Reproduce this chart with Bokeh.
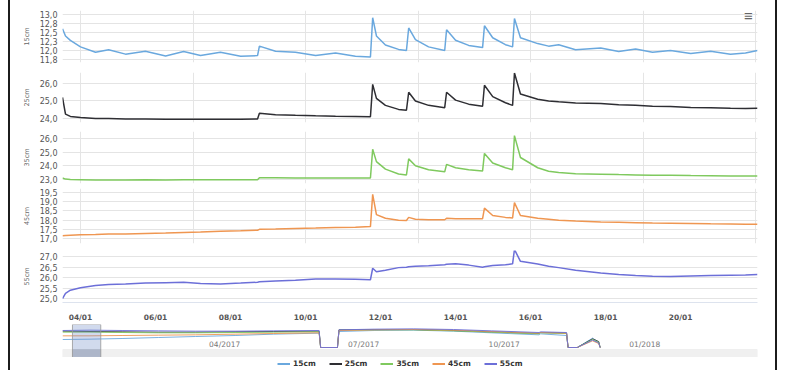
import numpy as np
import pandas as pd
from bokeh.plotting import figure
from bokeh.layouts import column, row
from bokeh.models import (Range1d, FixedTicker, CustomJSTickFormatter, DaysTicker,
                          DatetimeTickFormatter, Legend, LegendItem, BoxAnnotation,
                          Label, Spacer)
from bokeh.embed import file_html
from bokeh.resources import INLINE
from bokeh.core.properties import value

# ---------------- data ----------------
series_names = ["15cm", "25cm", "35cm", "45cm", "55cm"]
series_colors = ["#6aa8de", "#2e2e33", "#7fc95e", "#ef9651", "#6c6fd8"]

# time of each reading, in days of January 2017
day_of_jan = [3.52, 3.60, 3.73, 4.00, 4.40, 4.75, 5.20, 5.73, 6.27, 6.75,
              7.20, 7.73, 8.27, 8.72, 8.77, 9.20, 9.73, 10.27, 10.80, 11.33,
              11.73, 11.79, 11.89, 12.13, 12.48, 12.69, 12.75, 12.93, 13.28, 13.71,
              13.76, 14.00, 14.35, 14.72, 14.77, 14.99, 15.33, 15.52, 15.57, 15.73,
              16.19, 16.48, 16.75, 17.20, 17.87, 18.35, 18.80, 19.25, 19.73, 20.27,
              20.80, 21.33, 21.73, 22.05]

temp_15 = [12.60, 12.40, 12.28, 12.10, 11.95, 12.02, 11.90, 11.98, 11.85, 11.97,
           11.86, 11.95, 11.84, 11.86, 12.12, 11.98, 11.95, 11.86, 11.93, 11.84,
           11.82, 12.90, 12.40, 12.15, 12.03, 12.00, 12.62, 12.30, 12.10, 12.00,
           12.57, 12.28, 12.14, 12.08, 12.68, 12.35, 12.16, 12.10, 12.88, 12.35,
           12.19, 12.12, 12.16, 12.02, 12.07, 11.97, 12.04, 11.95, 12.00, 11.92,
           11.98, 11.90, 11.93, 12.00]
temp_25 = [25.20, 24.25, 24.12, 24.05, 24.00, 24.00, 23.97, 23.97, 23.95, 23.96,
           23.95, 23.96, 23.95, 23.97, 24.30, 24.22, 24.18, 24.15, 24.13, 24.12,
           24.10, 25.95, 25.15, 24.75, 24.52, 24.47, 25.50, 25.00, 24.75, 24.62,
           25.50, 25.05, 24.82, 24.70, 25.90, 25.25, 24.90, 24.75, 26.60, 25.40,
           25.10, 25.00, 24.95, 24.88, 24.85, 24.78, 24.75, 24.70, 24.68, 24.63,
           24.62, 24.58, 24.57, 24.58]
temp_35 = [23.10, 23.02, 23.00, 22.98, 22.95, 22.95, 22.96, 22.97, 22.96, 22.97,
           22.97, 22.98, 22.98, 22.98, 23.12, 23.12, 23.11, 23.11, 23.10, 23.10,
           23.10, 25.20, 24.30, 23.75, 23.40, 23.32, 24.50, 24.00, 23.70, 23.55,
           24.10, 23.85, 23.70, 23.62, 24.90, 24.20, 23.85, 23.70, 26.20, 24.60,
           23.85, 23.60, 23.50, 23.42, 23.38, 23.35, 23.33, 23.30, 23.30, 23.28,
           23.27, 23.25, 23.25, 23.25]
temp_45 = [17.15, 17.17, 17.18, 17.20, 17.22, 17.25, 17.24, 17.28, 17.30, 17.33,
           17.36, 17.40, 17.42, 17.45, 17.50, 17.52, 17.55, 17.57, 17.60, 17.62,
           17.65, 19.40, 18.30, 18.10, 18.00, 17.98, 18.15, 18.05, 18.02, 18.02,
           18.10, 18.08, 18.08, 18.08, 18.65, 18.25, 18.15, 18.12, 18.95, 18.25,
           18.10, 18.05, 18.00, 17.95, 17.90, 17.88, 17.86, 17.84, 17.83, 17.82,
           17.80, 17.79, 17.78, 17.78]
temp_55 = [25.00, 25.25, 25.40, 25.52, 25.62, 25.67, 25.70, 25.74, 25.76, 25.78,
           25.72, 25.70, 25.74, 25.78, 25.80, 25.84, 25.88, 25.93, 25.93, 25.92,
           25.90, 26.45, 26.28, 26.35, 26.48, 26.50, 26.52, 26.55, 26.57, 26.62,
           26.64, 26.66, 26.60, 26.50, 26.52, 26.58, 26.62, 26.66, 27.35, 26.78,
           26.65, 26.55, 26.48, 26.35, 26.22, 26.15, 26.10, 26.07, 26.05, 26.08,
           26.10, 26.12, 26.13, 26.15]

y_ticks_15 = [11.75, 12.0, 12.25, 12.5, 12.75, 13.0]
y_ticks_25 = [24.0, 25.0, 26.0]
y_ticks_35 = [23.0, 24.0, 25.0, 26.0]
y_ticks_45 = [17.0, 17.5, 18.0, 18.5, 19.0, 19.5]
y_ticks_55 = [25.0, 25.5, 26.0, 26.5, 27.0]
x_tick_days = [4, 6, 8, 10, 12, 14, 16, 18, 20]

# navigator (whole record)
nav_dates = ["2016-12-28", "2017-01-15", "2017-02-05", "2017-03-01", "2017-03-25",
             "2017-04-20", "2017-05-15", "2017-06-14", "2017-06-15", "2017-06-26",
             "2017-06-27", "2017-07-20", "2017-08-15", "2017-09-10", "2017-10-05",
             "2017-11-05", "2017-11-06", "2017-11-23", "2017-11-24", "2017-11-30",
             "2017-12-10", "2017-12-14", "2017-12-15"]
nav_15 = [12.0, 12.5, 13.5, 15.0, 16.5, 18.0, 20.0, 21.5, 0, 0, 24.0, 25.5,
          26.0, 24.5, 22.0, 19.0, 20.5, 18.0, 0, 0, 14.0, 8.0, 0]
nav_25 = [24.5, 24.0, 23.5, 23.0, 23.0, 23.5, 24.0, 24.5, 0, 0, 26.5, 27.0,
          27.0, 25.5, 23.5, 21.0, 22.5, 21.5, 0, 0, 13.0, 9.0, 0]
nav_35 = [23.0, 23.0, 22.5, 22.0, 22.0, 22.5, 23.0, 23.5, 0, 0, 26.0, 26.5,
          26.5, 25.0, 23.0, 20.5, 22.0, 21.0, 0, 0, 12.0, 8.0, 0]
nav_45 = [17.5, 17.5, 18.0, 18.5, 19.0, 20.0, 21.0, 22.0, 0, 0, 25.5, 26.5,
          27.0, 26.0, 24.0, 21.5, 22.5, 21.5, 0, 0, 10.0, 6.0, 0]
nav_55 = [25.5, 26.0, 25.5, 25.0, 24.5, 24.5, 25.0, 25.5, 0, 0, 26.5, 27.5,
          28.0, 27.0, 25.0, 22.5, 23.5, 22.5, 0, 0, 11.0, 7.0, 0]
nav_tick_dates = ["2017-04-01", "2017-07-01", "2017-10-01", "2018-01-01"]
nav_tick_labels = ["04/2017", "07/2017", "10/2017", "01/2018"]

# ---------------- build ----------------
FONT = "DejaVu Sans"
W = 765
t = pd.Timestamp("2017-01-01") + pd.to_timedelta(np.array(day_of_jan) - 1.0, unit="D")
x_range = Range1d(start=t[0], end=t[-1])


def ms(ts):
    return pd.Timestamp(ts).value / 1e6


comma_fmt = CustomJSTickFormatter(code="return tick.toFixed(1).replace('.', ',');")

panels = [
    (temp_15, (11.67, 13.1), y_ticks_15, 67, 10, 5),
    (temp_25, (23.77, 26.63), y_ticks_25, 60, 5, 5),
    (temp_35, (22.7, 26.5), y_ticks_35, 59, 4, 3),
    (temp_45, (16.73, 19.72), y_ticks_45, 60, 2, 3),
    (temp_55, (24.81, 27.3), y_ticks_55, 78, 4, 22),
]

figs = []
for i, (vals, yr, ticks, h, bt, bb) in enumerate(panels):
    last = i == len(panels) - 1
    p = figure(width=W, height=h, x_range=x_range,
               y_range=Range1d(*yr), x_axis_type="datetime",
               x_axis_location="below" if last else None,
               output_backend="svg", toolbar_location=None,
               min_border_left=52, min_border_right=18,
               min_border_top=bt, min_border_bottom=bb)
    p.outline_line_color = None
    p.background_fill_color = "white"
    p.border_fill_color = "white"
    p.line(x=t, y=vals, line_color=series_colors[i], line_width=1.5)
    ya = p.yaxis[0]
    ya.ticker = FixedTicker(ticks=ticks)
    ya.formatter = comma_fmt
    ya.axis_label = series_names[i]
    ya.axis_label_text_font_size = "6.5px"
    ya.axis_label_text_font_style = "normal"
    ya.axis_label_text_color = "#666666"
    ya.axis_label_text_font = FONT
    ya.axis_label_standoff = 6
    ya.major_label_text_font_size = "8px"
    ya.major_label_text_color = "#555555"
    ya.major_label_text_font = FONT
    ya.major_label_standoff = 5
    ya.axis_line_color = None
    ya.major_tick_line_color = None
    ya.minor_tick_line_color = None
    ya.major_tick_out = 0
    ya.minor_tick_out = 0
    p.ygrid.grid_line_color = "#e4e4e4"
    if last:
        xa = p.xaxis[0]
        xa.ticker = DaysTicker(days=x_tick_days)
        xa.formatter = DatetimeTickFormatter(days="%d/%m", months="%d/%m")
        xa.major_label_text_font_size = "7.5px"
        xa.major_label_text_font_style = "bold"
        xa.major_label_text_color = "#555555"
        xa.major_label_text_font = FONT
        xa.major_label_standoff = 10
        xa.axis_line_color = "#dde3ee"
        xa.major_tick_line_color = None
        xa.minor_tick_line_color = None
        xa.major_tick_out = 0
        xa.minor_tick_out = 0
        p.xgrid.grid_line_color = None
    if i == 0:
        p.add_layout(Label(x=686, y=47, x_units="screen", y_units="screen",
                           text="\u2261", text_font_size="15px", text_color="#666666",
                           text_align="center", text_baseline="middle"))
    figs.append(p)

# navigator
nav_t = pd.to_datetime(nav_dates)
nav = figure(width=W, height=33,
             x_range=Range1d(start=pd.Timestamp("2016-12-28"), end=pd.Timestamp("2018-03-28")),
             y_range=Range1d(-15, 34.5),
             x_axis_location=None, y_axis_location=None,
             output_backend="svg", toolbar_location=None,
             min_border_left=52, min_border_right=18,
             min_border_top=0, min_border_bottom=0)
nav.outline_line_color = None
nav.border_fill_color = "white"
nav.grid.visible = False
for vals, c in zip([nav_15, nav_25, nav_35, nav_45, nav_55], series_colors):
    nav.line(x=nav_t, y=vals, line_color=c, line_width=1, line_alpha=0.9)
nav.text(x=pd.to_datetime(nav_tick_dates), y=[4.5] * len(nav_tick_dates), text=nav_tick_labels,
         x_offset=3, text_font_size="7.5px", text_color="#777777",
         text_baseline="middle", text_font=value(FONT))
sel_left, sel_right = ms(t[0]), ms(t[-1])
nav.add_layout(BoxAnnotation(bottom=-14, top=-3, fill_color="#f0f0f0", fill_alpha=1,
                             line_color="#dddddd"))
nav.add_layout(BoxAnnotation(left=sel_left, right=sel_right, bottom=-14, top=-3,
                             fill_color="#cccccc", fill_alpha=1, line_color="#bbbbbb"))
nav.add_layout(BoxAnnotation(left=sel_left, right=sel_right,
                             fill_color="#6685c2", fill_alpha=0.3,
                             line_color="#999999", line_alpha=0.8))
figs.append(nav)

# legend strip
leg = figure(width=W, height=13, x_range=Range1d(0, 1), y_range=Range1d(0, 1),
             x_axis_location=None, y_axis_location=None,
             output_backend="svg", toolbar_location=None,
             min_border_left=0, min_border_right=0, min_border_top=0, min_border_bottom=0)
leg.outline_line_color = None
leg.grid.visible = False
legend_items = []
for name, c in zip(series_names, series_colors):
    # renderers kept outside the visible range; they only supply legend glyphs
    r = leg.line(x=[5, 6], y=[5, 6], line_color=c, line_width=2)
    legend_items.append(LegendItem(label=name, renderers=[r]))
legend = Legend(items=legend_items, orientation="horizontal", location=(215, 2),
                glyph_width=13, glyph_height=9, label_height=9, label_standoff=3,
                spacing=13, padding=0, margin=0, border_line_color=None,
                background_fill_alpha=0, label_text_font_size="7.5px",
                label_text_font_style="bold", label_text_color="#333333",
                label_text_font=FONT, label_text_baseline="middle")
leg.add_layout(legend)
figs.append(leg)

chart = column(*figs, spacing=0)
edge_l = Spacer(width=2, height=370, styles={"background-color": "#1c1c1c"})
edge_r = Spacer(width=2, height=370, styles={"background-color": "#1c1c1c"})
layout = row(Spacer(width=8, height=370), edge_l, chart, edge_r, spacing=0)
open("out.html", "w").write(file_html(layout, INLINE))
